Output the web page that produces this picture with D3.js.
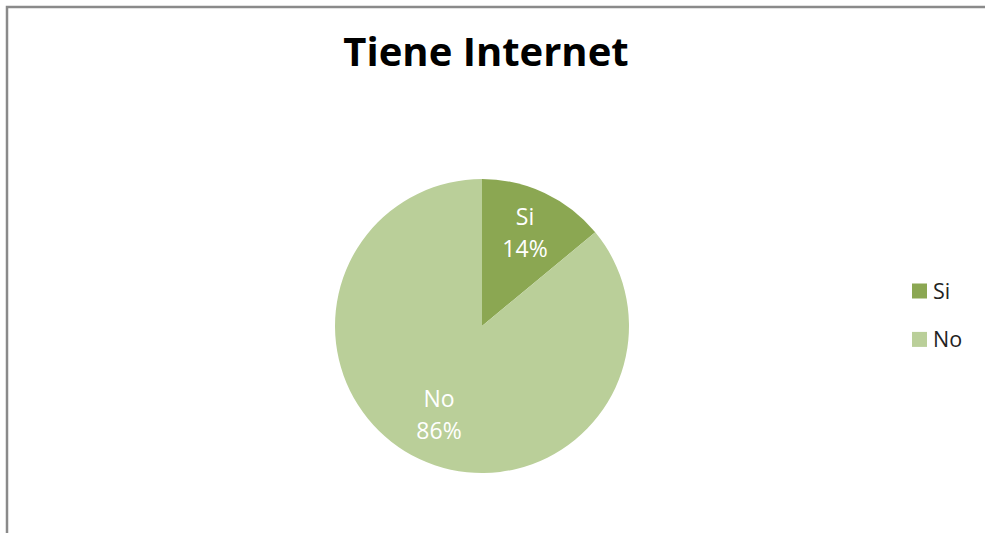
<!DOCTYPE html>
<html>
<head>
<meta charset="utf-8">
<script src="https://cdn.jsdelivr.net/npm/d3@7"></script>
<style>
  html, body { margin: 0; padding: 0; background: #fff; }
  svg { display: block; font-family: "Open Sans", sans-serif; }
</style>
</head>
<body>
<svg id="chart" width="985" height="533"></svg>
<script>
const title = "Tiene Internet";
const categories = ["Si", "No"];
const values = [14, 86];
const colors = ["#8BA752", "#BACF99"];

const W = 985, H = 533;
const svg = d3.select("#chart");

// frame (partially visible border)
svg.append("rect")
  .attr("x", 7).attr("y", 7)
  .attr("width", W + 20).attr("height", H + 20)
  .attr("fill", "none").attr("stroke", "#8a8a8a").attr("stroke-width", 2.5);

svg.append("text")
  .attr("x", 486).attr("y", 66)
  .attr("text-anchor", "middle")
  .attr("font-size", 40).attr("font-weight", 700)
  .attr("fill", "#000")
  .text(title);

const cx = 482, cy = 326, R = 147;
const data = categories.map((c, i) => ({ cat: c, value: values[i] }));
const total = d3.sum(values);

const pie = d3.pie().value(d => d.value).sort(null);
const arc = d3.arc().innerRadius(0).outerRadius(R);
const labelArc = d3.arc().innerRadius(0).outerRadius(202);

const color = d3.scaleOrdinal().domain(categories).range(colors);

const g = svg.append("g").attr("transform", `translate(${cx},${cy})`);
const arcs = pie(data);

g.selectAll("path").data(arcs).join("path")
  .attr("d", arc)
  .attr("fill", d => color(d.data.cat));

const lbl = g.selectAll("text.lbl").data(arcs).join("text")
  .attr("class", "lbl")
  .attr("transform", d => `translate(${labelArc.centroid(d)})`)
  .attr("text-anchor", "middle")
  .attr("font-size", 23)
  .attr("fill", "#fff");
lbl.append("tspan").attr("x", 0).attr("y", -10).text(d => d.data.cat);
lbl.append("tspan").attr("x", 0).attr("y", 22)
  .text(d => Math.round(d.data.value / total * 100) + "%");

// legend
const leg = svg.append("g").attr("transform", "translate(912,283.5)");
const item = leg.selectAll("g").data(categories).join("g")
  .attr("transform", (d, i) => `translate(0,${i * 48.4})`);
item.append("rect")
  .attr("width", 15).attr("height", 15)
  .attr("fill", d => color(d));
item.append("text")
  .attr("x", 21).attr("y", 15)
  .attr("font-size", 21.5)
  .attr("fill", "#222")
  .text(d => d);
</script>
</body>
</html>
